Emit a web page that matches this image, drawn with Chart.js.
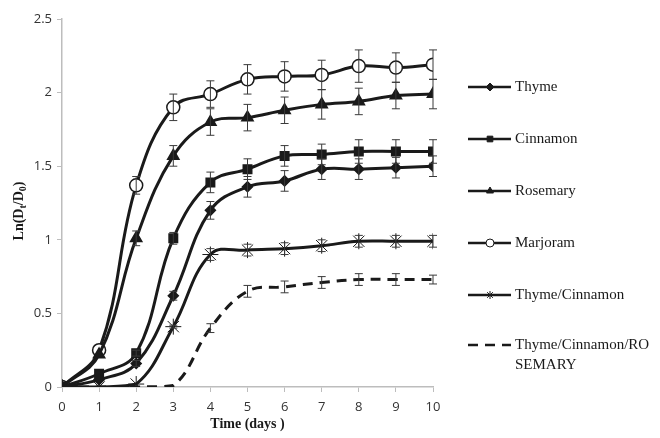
<!DOCTYPE html>
<html>
<head>
<meta charset="utf-8">
<script src="https://cdn.jsdelivr.net/npm/chart.js@4/dist/chart.umd.min.js"></script>
<style>
  html, body { margin: 0; padding: 0; background: #fff; }
  #wrap { width: 660px; height: 438px; }
</style>
</head>
<body>
<div id="wrap"><canvas id="chart" width="660" height="438"></canvas></div>
<script>
// jours
const days = [0, 1, 2, 3, 4, 5, 6, 7, 8, 9, 10];
const yTicks = [0, 0.5, 1, 1.5, 2, 2.5];

const seriesNames = ['Thyme', 'Cinnamon', 'Rosemary', 'Marjoram', 'Thyme/Cinnamon', 'Thyme/Cinnamon/RO\nSEMARY'];

const thyme        = [0, 0.05, 0.16, 0.62, 1.20, 1.36, 1.40, 1.48, 1.48, 1.49, 1.50];
const cinnamon     = [0, 0.09, 0.23, 1.01, 1.39, 1.48, 1.57, 1.58, 1.60, 1.60, 1.60];
const rosemary     = [0, 0.22, 1.01, 1.57, 1.80, 1.83, 1.88, 1.92, 1.94, 1.98, 1.99];
const marjoram     = [0, 0.25, 1.37, 1.90, 1.99, 2.09, 2.11, 2.12, 2.18, 2.17, 2.19];
const thymeCinn    = [0, 0, 0.02, 0.41, 0.90, 0.93, 0.94, 0.96, 0.99, 0.99, 0.99];
const thymeCinnRos = [0, 0, 0, 0.01, 0.40, 0.65, 0.68, 0.71, 0.73, 0.73, 0.73];

// barres d'erreur (+/-)
const thymeErr        = [0, 0, 0.02, 0.03, 0.06, 0.07, 0.07, 0.07, 0.07, 0.07, 0.07];
const cinnamonErr     = [0, 0, 0.02, 0.04, 0.07, 0.07, 0.07, 0.07, 0.08, 0.08, 0.08];
const rosemaryErr     = [0, 0, 0.05, 0.07, 0.09, 0.09, 0.09, 0.10, 0.09, 0.09, 0.10];
const marjoramErr     = [0, 0, 0.06, 0.09, 0.09, 0.10, 0.10, 0.10, 0.11, 0.10, 0.10];
const thymeCinnErr    = [0, 0, 0, 0.01, 0.04, 0.04, 0.04, 0.04, 0.04, 0.04, 0.04];
const thymeCinnRosErr = [0, 0, 0, 0, 0.03, 0.04, 0.04, 0.04, 0.04, 0.04, 0.03];

const INK = '#1a1a1a';

function pts(values) {
    return values.map((v, i) => ({ x: days[i], y: v }));
}

function series(label, values, errors, style, radius, fill, dash) {
    return {
        label: label,
        data: pts(values),
        errors: errors,
        borderColor: INK,
        borderWidth: 3,
        borderDash: dash || [],
        tension: 0.4,
        pointStyle: style,
        pointRadius: radius,
        pointBorderWidth: style === 'star' ? 1 : 1.5,
        pointBackgroundColor: fill,
        pointBorderColor: INK
    };
}

const errorBars = {
    id: 'errorBars',
    afterDatasetsDraw(chart) {
        const ctx = chart.ctx;
        const yScale = chart.scales.y;
        ctx.save();
        ctx.strokeStyle = '#3a3a3a';
        ctx.lineWidth = 1;
        chart.data.datasets.forEach((ds, di) => {
            const meta = chart.getDatasetMeta(di);
            meta.data.forEach((pt, i) => {
                const e = ds.errors[i];
                if (!e) return;
                const v = ds.data[i].y;
                const top = yScale.getPixelForValue(v + e);
                const bot = yScale.getPixelForValue(v - e);
                const x = pt.x;
                ctx.beginPath();
                ctx.moveTo(x, top); ctx.lineTo(x, bot);
                ctx.moveTo(x - 4, top); ctx.lineTo(x + 4, top);
                ctx.moveTo(x - 4, bot); ctx.lineTo(x + 4, bot);
                ctx.stroke();
            });
        });
        ctx.restore();
    }
};

const titlesAndLegend = {
    id: 'titlesAndLegend',
    afterDraw(chart) {
        const ctx = chart.ctx;
        const area = chart.chartArea;
        ctx.save();
        ctx.fillStyle = INK;

        // titre axe x
        ctx.font = 'bold 14px "Liberation Serif"';
        ctx.textAlign = 'center';
        ctx.textBaseline = 'middle';
        ctx.fillText('Time (days )', (area.left + area.right) / 2, 424);

        // titre axe y avec indices
        ctx.translate(19, (area.top + area.bottom) / 2 + 8);
        ctx.rotate(-Math.PI / 2);
        const parts = [['Ln(D', false], ['t', true], ['/D', false], ['0', true], [')', false]];
        const big = 'bold 14px "Liberation Serif"';
        const small = 'bold 10px "Liberation Serif"';
        let total = 0;
        parts.forEach(p => { ctx.font = p[1] ? small : big; total += ctx.measureText(p[0]).width; });
        let x = -total / 2;
        ctx.textAlign = 'left';
        parts.forEach(p => {
            ctx.font = p[1] ? small : big;
            ctx.fillText(p[0], x, p[1] ? 4 : 0);
            x += ctx.measureText(p[0]).width;
        });
        ctx.setTransform(1, 0, 0, 1, 0, 0);

        // légende
        const legendY = [87, 139, 191, 243, 295, 345];
        chart.data.datasets.forEach((ds, i) => {
            const y = legendY[i];
            ctx.strokeStyle = INK;
            ctx.lineWidth = 2.5;
            ctx.setLineDash(ds.borderDash);
            ctx.beginPath();
            ctx.moveTo(468, y); ctx.lineTo(511, y);
            ctx.stroke();
            ctx.setLineDash([]);
            if (ds.pointRadius > 0) {
                ctx.fillStyle = ds.pointBackgroundColor;
                ctx.strokeStyle = INK;
                ctx.lineWidth = 1;
                Chart.helpers.drawPoint(ctx, {
                    pointStyle: ds.pointStyle,
                    radius: 4,
                    borderWidth: 1,
                    rotation: 0
                }, 490, y);
            }
            ctx.fillStyle = INK;
            ctx.font = '15px "Liberation Serif"';
            ctx.textAlign = 'left';
            ctx.textBaseline = 'middle';
            ds.label.split('\n').forEach((line, k) => {
                ctx.fillText(line, 515, y + k * 20);
            });
        });
        ctx.restore();
    }
};

new Chart(document.getElementById('chart'), {
    type: 'line',
    data: {
        datasets: [
            series(seriesNames[0], thyme, thymeErr, 'rectRot', 5, INK),
            series(seriesNames[1], cinnamon, cinnamonErr, 'rect', 6, INK),
            series(seriesNames[2], rosemary, rosemaryErr, 'triangle', 6.5, INK),
            series(seriesNames[3], marjoram, marjoramErr, 'circle', 6.5, '#ffffff'),
            series(seriesNames[4], thymeCinn, thymeCinnErr, 'star', 8, INK),
            series(seriesNames[5], thymeCinnRos, thymeCinnRosErr, 'circle', 0, INK, [10, 7])
        ]
    },
    options: {
        responsive: false,
        animation: false,
        layout: { padding: { top: 19, right: 227, left: 0, bottom: 0 } },
        plugins: {
            legend: { display: false },
            tooltip: { enabled: false }
        },
        scales: {
            x: {
                type: 'linear',
                min: 0,
                max: 10,
                afterFit: s => { s.height = 51; },
                afterBuildTicks: s => { s.ticks = days.map(v => ({ value: v })); },
                border: { color: '#bdbdbd', width: 1.5 },
                grid: { drawOnChartArea: false, drawTicks: true, tickLength: 5, color: '#bdbdbd' },
                ticks: { color: '#333', font: { family: 'Open Sans', size: 13 }, padding: 7, maxRotation: 0 }
            },
            y: {
                min: 0,
                max: 2.5,
                afterFit: s => { s.width = 62; },
                afterBuildTicks: s => { s.ticks = yTicks.map(v => ({ value: v })); },
                border: { color: '#bdbdbd', width: 1.5 },
                grid: { drawOnChartArea: false, drawTicks: true, tickLength: 5, color: '#bdbdbd' },
                ticks: {
                    color: '#333',
                    font: { family: 'Open Sans', size: 13 },
                    padding: 5,
                    callback: v => String(v)
                }
            }
        }
    },
    plugins: [errorBars, titlesAndLegend]
});
</script>
</body>
</html>
